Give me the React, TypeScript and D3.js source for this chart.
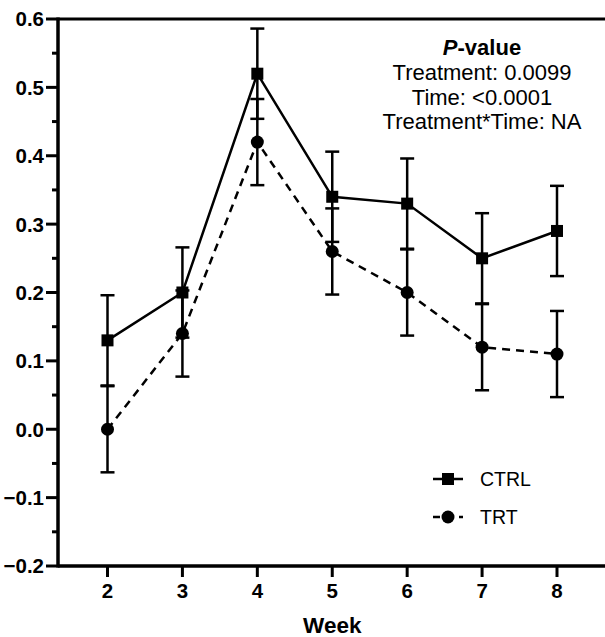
import { useEffect, useRef } from 'react';
import * as d3 from 'd3';

const weeks = [2, 3, 4, 5, 6, 7, 8];
const ctrlMean = [0.13, 0.20, 0.52, 0.34, 0.33, 0.25, 0.29];
const ctrlErr = [0.066, 0.066, 0.066, 0.066, 0.066, 0.066, 0.066];
const trtMean = [0.00, 0.14, 0.42, 0.26, 0.20, 0.12, 0.11];
const trtErr = [0.063, 0.063, 0.063, 0.063, 0.063, 0.063, 0.063];
const yTicks = [-0.2, -0.1, 0.0, 0.1, 0.2, 0.3, 0.4, 0.5, 0.6];
const pLines = ['Treatment: 0.0099', 'Time: <0.0001', 'Treatment*Time: NA'];

export default function App() {
  const ref = useRef<SVGSVGElement>(null);

  useEffect(() => {
    const svg = d3.select(ref.current);
    svg.selectAll('*').remove();
    const font = 'Liberation Sans, Arial, sans-serif';

    const left = 58, right = 605, top = 19, bottom = 566;
    const x = d3.scaleLinear().domain([2, 8]).range([107.5, 557]);
    const y = d3.scaleLinear().domain([-0.2, 0.6]).range([bottom, top]);

    const g = svg.append('g');

    // error bars
    const series = [
      { mean: ctrlMean, err: ctrlErr },
      { mean: trtMean, err: trtErr },
    ];
    series.forEach(s => {
      weeks.forEach((w, i) => {
        const cx = x(w);
        const y1 = y(s.mean[i] + s.err[i]), y0 = y(s.mean[i] - s.err[i]);
        g.append('line').attr('x1', cx).attr('x2', cx).attr('y1', y1).attr('y2', y0)
          .attr('stroke', '#000').attr('stroke-width', 2.5);
        [y1, y0].forEach(yy => g.append('line').attr('x1', cx - 7).attr('x2', cx + 7)
          .attr('y1', yy).attr('y2', yy).attr('stroke', '#000').attr('stroke-width', 2.5));
      });
    });

    const line = d3.line<number>().x((_, i) => x(weeks[i])).y(d => y(d));
    g.append('path').datum(ctrlMean).attr('d', line).attr('fill', 'none')
      .attr('stroke', '#000').attr('stroke-width', 2.5);
    g.append('path').datum(trtMean).attr('d', line).attr('fill', 'none')
      .attr('stroke', '#000').attr('stroke-width', 2.5).attr('stroke-dasharray', '8,6');

    g.selectAll('.sq').data(ctrlMean).join('rect')
      .attr('x', (_, i) => x(weeks[i]) - 6).attr('y', d => y(d) - 6)
      .attr('width', 12).attr('height', 12).attr('fill', '#000');
    g.selectAll('.ci').data(trtMean).join('circle')
      .attr('cx', (_, i) => x(weeks[i])).attr('cy', d => y(d)).attr('r', 6.5).attr('fill', '#000');

    // axes frame
    g.append('line').attr('x1', left).attr('x2', right).attr('y1', top).attr('y2', top)
      .attr('stroke', '#000').attr('stroke-width', 3);
    g.append('line').attr('x1', left).attr('x2', left).attr('y1', top - 1.5).attr('y2', bottom + 1.5)
      .attr('stroke', '#000').attr('stroke-width', 3.5);
    g.append('line').attr('x1', left).attr('x2', right).attr('y1', bottom).attr('y2', bottom)
      .attr('stroke', '#000').attr('stroke-width', 3.5);

    // y ticks
    yTicks.forEach(t => {
      g.append('line').attr('x1', left - 12).attr('x2', left).attr('y1', y(t)).attr('y2', y(t))
        .attr('stroke', '#000').attr('stroke-width', 3);
      g.append('text').attr('x', left - 14).attr('y', y(t)).attr('dy', '0.36em')
        .attr('text-anchor', 'end').attr('font-family', font).attr('font-weight', 'bold')
        .attr('font-size', 20.5).text(d3.format('.1f')(t));
    });
    yTicks.slice(0, -1).forEach(t => {
      const m = t + 0.05;
      g.append('line').attr('x1', left - 6).attr('x2', left).attr('y1', y(m)).attr('y2', y(m))
        .attr('stroke', '#000').attr('stroke-width', 3);
    });

    // x ticks
    weeks.forEach(w => {
      g.append('line').attr('x1', x(w)).attr('x2', x(w)).attr('y1', bottom).attr('y2', bottom + 11)
        .attr('stroke', '#000').attr('stroke-width', 3);
      g.append('text').attr('x', x(w)).attr('y', 598).attr('text-anchor', 'middle')
        .attr('font-family', font).attr('font-weight', 'bold').attr('font-size', 20.5).text(w);
    });
    g.append('text').attr('x', x(5)).attr('y', 633).attr('text-anchor', 'middle')
      .attr('font-family', font).attr('font-weight', 'bold').attr('font-size', 22.5).text('Week');

    // p-value annotation
    const px = 482;
    const pt = g.append('text').attr('x', px).attr('y', 55).attr('text-anchor', 'middle')
      .attr('font-family', font).attr('font-size', 22).attr('font-weight', 'bold');
    pt.append('tspan').attr('font-style', 'italic').text('P');
    pt.append('tspan').text('-value');
    pLines.forEach((s, i) => {
      g.append('text').attr('x', px).attr('y', 80 + i * 24.5).attr('text-anchor', 'middle')
        .attr('font-family', font).attr('font-size', 22).text(s);
    });

    // legend
    const lg = [
      { name: 'CTRL', y: 479, dash: null as string | null, shape: 'sq' },
      { name: 'TRT', y: 517, dash: '7,6', shape: 'ci' },
    ];
    lg.forEach(l => {
      const ln = g.append('line').attr('x1', 433).attr('x2', 463).attr('y1', l.y).attr('y2', l.y)
        .attr('stroke', '#000').attr('stroke-width', 2.5);
      if (l.dash) ln.attr('stroke-dasharray', l.dash);
      if (l.shape === 'sq') {
        g.append('rect').attr('x', 442).attr('y', l.y - 6).attr('width', 12).attr('height', 12).attr('fill', '#000');
      } else {
        g.append('circle').attr('cx', 448).attr('cy', l.y).attr('r', 6.5).attr('fill', '#000');
      }
      g.append('text').attr('x', 480).attr('y', l.y).attr('dy', '0.36em')
        .attr('font-family', font).attr('font-size', 19.5).text(l.name);
    });
  }, []);

  return (
    <svg ref={ref} width={605} height={637}
      style={{ position: 'absolute', left: 0, top: 0, background: '#fff' }} />
  );
}
